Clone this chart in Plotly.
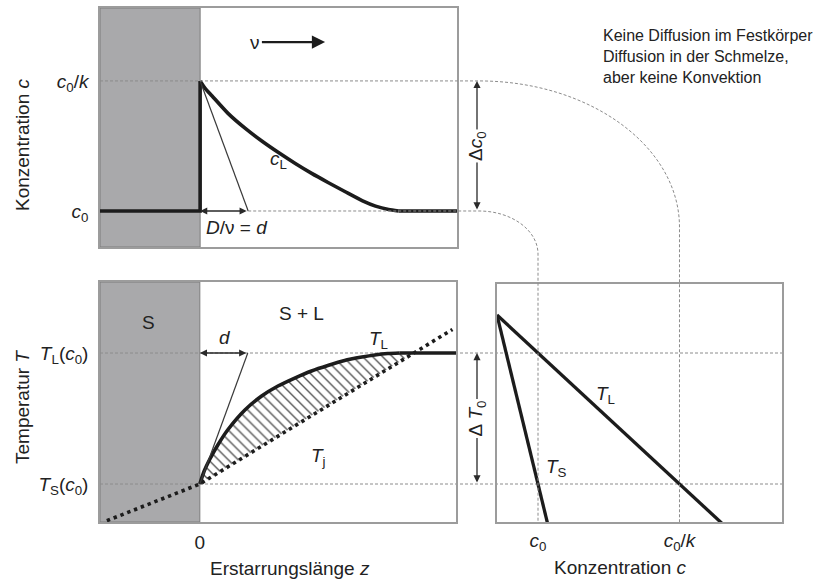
import plotly.graph_objects as go

W, H = 815, 579
FONT = "Liberation Sans, Arial, Helvetica, sans-serif"

# ---- dimensionless model quantities ----
# c in units of c0, T scaled so that T_S(c0) = 0 and T_L(c0) = 1, z in units of d = D/nu
C0 = 1.0
K = 0.2247                      # partition coefficient (c0/k = 4.45)
T_MELT = 1.0 / (1.0 - K)        # liquidus temperature of the pure solvent
M_LIQ = (T_MELT - 1.0) / C0     # liquidus slope
D_V = 1.0                       # diffusion length d = D/nu

# solute profile in the melt ahead of the front
z_prof = [0.0, 0.10, 0.25, 0.58, 0.94, 1.29, 1.63, 1.98, 2.33, 2.67, 3.02, 3.38, 3.65, 3.92, 4.13]
c_prof = [4.45, 4.26, 4.05, 3.59, 3.19, 2.85, 2.55, 2.26, 1.99, 1.75, 1.51, 1.27, 1.13, 1.04, 1.00]

# local liquidus temperature ahead of the front
z_temp = [0.0, 0.083, 0.21, 0.375, 0.58, 0.94, 1.29, 1.63, 1.98, 2.33, 2.67, 3.02, 3.38, 3.65, 3.92, 4.17]
t_liq = [0.0, 0.092, 0.191, 0.298, 0.412, 0.565, 0.672, 0.748, 0.809, 0.863, 0.905, 0.943, 0.969, 0.985, 0.996, 1.0]

# imposed temperature profile T_j (solid | melt)
z_tj = [-1.94, 0.0, 5.27]
t_tj = [-0.28, 0.0, 1.18]

# ---- panel placement (pixels: left, right, top, bottom) ----
BOX_TOP = (100, 457, 8, 247)
BOX_BL = (100, 456, 282, 522)
BOX_BR = (497, 782, 284, 522)

Z_RANGE = [-2.083, 5.344]
C_RANGE = [0.045, 6.385]
TL_RANGE = [-0.29, 1.542]
CR_RANGE = [0.0, 6.95]
TR_RANGE = [-0.29, 1.527]


def xdom(b):
    return [b[0] / W, b[1] / W]


def ydom(b):
    return [1 - b[3] / H, 1 - b[2] / H]


def to_px_x(box, rng, v):
    return box[0] + (v - rng[0]) / (rng[1] - rng[0]) * (box[1] - box[0])


def to_px_y(box, rng, v):
    return box[3] - (v - rng[0]) / (rng[1] - rng[0]) * (box[3] - box[2])


INK = "#1c1c1c"
THIN = "#3a3a3a"
GUIDE = "#8c8c8c"
BOXLINE = "#9c9c9c"
SOLID_FILL = "#a9a9ab"
TXT = 19

fig = go.Figure()

# ---- top: concentration ----
fig.add_trace(go.Scatter(x=[Z_RANGE[0], 0.0, 0.0], y=[C0, C0, c_prof[0]], mode="lines",
                         line=dict(color=INK, width=3.6), xaxis="x", yaxis="y", hoverinfo="skip"))
fig.add_trace(go.Scatter(x=z_prof, y=c_prof, mode="lines", line=dict(color=INK, width=3.6, shape="spline", smoothing=0.6),
                         xaxis="x", yaxis="y", hoverinfo="skip"))
fig.add_trace(go.Scatter(x=[z_prof[-1], Z_RANGE[1]], y=[C0, C0], mode="lines", line=dict(color=INK, width=3.6),
                         xaxis="x", yaxis="y", hoverinfo="skip"))
fig.add_trace(go.Scatter(x=[0.0, D_V], y=[C0 / K, C0], mode="lines", line=dict(color=THIN, width=1.2),
                         xaxis="x", yaxis="y", hoverinfo="skip"))

# ---- bottom left: temperature along z ----
z_cross = z_tj[2] * 1.0 / t_tj[2]
fig.add_trace(go.Scatter(x=[0.0, z_cross], y=[0.0, 1.0], mode="lines", line=dict(width=0, color="rgba(0,0,0,0)"),
                         xaxis="x2", yaxis="y2", hoverinfo="skip"))
fig.add_trace(go.Scatter(x=z_temp + [z_cross], y=t_liq + [1.0], mode="lines",
                         line=dict(width=0, color="rgba(0,0,0,0)", shape="spline", smoothing=0.6),
                         fill="tonexty", fillcolor="rgba(0,0,0,0)",
                         fillpattern=dict(shape="\\", size=7, solidity=0.2, fgcolor="#444444", fgopacity=0.9),
                         xaxis="x2", yaxis="y2", hoverinfo="skip"))
fig.add_trace(go.Scatter(x=z_tj, y=t_tj, mode="lines", line=dict(color=INK, width=3.6, dash="3.4px,3.9px"),
                         xaxis="x2", yaxis="y2", hoverinfo="skip"))
fig.add_trace(go.Scatter(x=z_temp, y=t_liq, mode="lines", line=dict(color=INK, width=3.6, shape="spline", smoothing=0.6),
                         xaxis="x2", yaxis="y2", hoverinfo="skip"))
fig.add_trace(go.Scatter(x=[z_temp[-1], Z_RANGE[1]], y=[1.0, 1.0], mode="lines", line=dict(color=INK, width=3.6),
                         xaxis="x2", yaxis="y2", hoverinfo="skip"))
fig.add_trace(go.Scatter(x=[0.0, D_V], y=[0.0, 1.0], mode="lines", line=dict(color=THIN, width=1.2),
                         xaxis="x2", yaxis="y2", hoverinfo="skip"))

# ---- bottom right: phase diagram ----
c_liq = [0.0, CR_RANGE[1]]
fig.add_trace(go.Scatter(x=c_liq, y=[T_MELT - M_LIQ * c for c in c_liq], mode="lines",
                         line=dict(color=INK, width=3.3), xaxis="x3", yaxis="y3", hoverinfo="skip"))
c_sol = [0.0, 2.0]
fig.add_trace(go.Scatter(x=c_sol, y=[T_MELT - M_LIQ * c / K for c in c_sol], mode="lines",
                         line=dict(color=INK, width=3.3), xaxis="x3", yaxis="y3", hoverinfo="skip"))

# ---- shapes ----
shapes = []
for xr, yr in (("x", "y"), ("x2", "y2")):
    shapes.append(dict(type="rect", xref=xr, yref=yr + " domain", x0=Z_RANGE[0], x1=0.0, y0=0, y1=1,
                       fillcolor=SOLID_FILL, line=dict(color="#7d7d7d", width=1), layer="below"))

dash = dict(color=GUIDE, width=1, dash="3px,2px")
ARROW_X = 477          # pixel column of the Delta arrows
ARC_X0 = 479           # where the connectors start to bend
ARC_ASPECT = 1.37
KAPPA = 0.5523


def pp(x, y):
    return f"{x / W:.5f},{1 - y / H:.5f}"


def connector(x_start, y_level, x_target, y_end):
    rx = x_target - ARC_X0
    ry = rx / ARC_ASPECT
    return ("M " + pp(x_start, y_level) + " L " + pp(ARC_X0, y_level)
            + " C " + pp(ARC_X0 + KAPPA * rx, y_level) + " " + pp(x_target, y_level + ry - KAPPA * ry)
            + " " + pp(x_target, y_level + ry) + " L " + pp(x_target, y_end))


# c0/k and c0 levels carried over to the phase diagram
y_ck = to_px_y(BOX_TOP, C_RANGE, C0 / K)
y_c0 = to_px_y(BOX_TOP, C_RANGE, C0)
x_ck = to_px_x(BOX_BR, CR_RANGE, C0 / K)
x_c0 = to_px_x(BOX_BR, CR_RANGE, C0)
shapes.append(dict(type="path", xref="paper", yref="paper", line=dash,
                   path=connector(BOX_TOP[0], y_ck, x_ck, BOX_BR[3])))
shapes.append(dict(type="path", xref="paper", yref="paper", line=dash,
                   path=connector(to_px_x(BOX_TOP, Z_RANGE, D_V), y_c0, x_c0, BOX_BR[3])))
# liquidus / solidus temperature levels
for tv in (0.0, 1.0):
    shapes.append(dict(type="line", xref="paper", yref="y2", x0=BOX_BL[0] / W, x1=BOX_BR[1] / W, y0=tv, y1=tv,
                       line=dash, layer="below"))

# ---- annotations ----
ann = []


def label(text, x, y, xref, yref, size=TXT, **kw):
    kw.setdefault("xanchor", "center")
    kw.setdefault("yanchor", "middle")
    ann.append(dict(text=text, x=x, y=y, xref=xref, yref=yref, showarrow=False,
                    font=dict(family=FONT, size=size, color="#222"), **kw))


arrow_style = dict(arrowhead=2, arrowsize=1.1, arrowwidth=1.3, arrowcolor="#2a2a2a", standoff=0, startstandoff=0,
                   arrowside="end+start", text="", showarrow=True)

# drift velocity
ann.append(dict(text="ν", x=2.60, y=5.48, xref="x", yref="y", ax=1.15, ay=5.48, axref="x", ayref="y",
                showarrow=True, arrowhead=2, arrowsize=1.1, arrowwidth=2.4, arrowcolor=INK, standoff=0,
                font=dict(family=FONT, size=TXT, color="#222")))
# d arrows
ann.append(dict(x=0.0, y=C0, xref="x", yref="y", ax=D_V, ay=C0, axref="x", ayref="y", **arrow_style))
ann.append(dict(x=0.0, y=1.0, xref="x2", yref="y2", ax=D_V, ay=1.0, axref="x2", ayref="y2", **arrow_style))
# Delta c0 and Delta T0
ann.append(dict(x=ARROW_X / W, y=C0 / K, xref="paper", yref="y", ax=0, ay=C0, axref="pixel", ayref="y",
                **arrow_style))
ann.append(dict(x=ARROW_X / W, y=1.0, xref="paper", yref="y2", ax=0, ay=0.0, axref="pixel", ayref="y2",
                **arrow_style))
label("Δ<i>c</i><sub>0</sub>", ARROW_X / W, (C0 + C0 / K) / 2, "paper", "y", textangle=-90, bgcolor="white")
label("Δ <i>T</i><sub>0</sub>", ARROW_X / W, 0.5, "paper", "y2", textangle=-90, bgcolor="white")

# curve and region labels
label("<i>c</i><sub>L</sub>", 1.64, 2.36, "x", "y")
label("<i>D</i>/ν = <i>d</i>", 0.77, 0.56, "x", "y")
label("S", -1.08, 1.23, "x2", "y2")
label("S + L", 2.13, 1.305, "x2", "y2")
label("<i>d</i>", 0.52, 1.115, "x2", "y2")
label("<i>T</i><sub>L</sub>", 3.72, 1.10, "x2", "y2")
label("<i>T</i><sub>j</sub>", 2.47, 0.21, "x2", "y2")
label("<i>T</i><sub>L</sub>", 2.65, 0.68, "x3", "y3")
label("<i>T</i><sub>S</sub>", 1.45, 0.12, "x3", "y3")

# axis titles
label("Konzentration <i>c</i>", 22 / W, 1 - 145 / H, "paper", "paper", textangle=-90)
label("Temperatur <i>T</i>", 22 / W, 1 - 407 / H, "paper", "paper", textangle=-90)
label("Erstarrungslänge <i>z</i>", 290 / W, 1 - 568 / H, "paper", "paper")
label("Konzentration <i>c</i>", 620 / W, 1 - 567 / H, "paper", "paper")

# note
label("Keine Diffusion im Festkörper<br>Diffusion in der Schmelze,<br>aber keine Konvektion",
      601 / W, 1 - 25 / H, "paper", "paper", size=16, xanchor="left", yanchor="top", align="left")

box_axis = dict(showline=True, mirror=True, linecolor=BOXLINE, linewidth=1.5, showgrid=False, zeroline=False,
                ticks="", fixedrange=True, tickfont=dict(family=FONT, size=TXT, color="#222"))

fig.update_layout(
    width=W, height=H, margin=dict(l=0, r=0, t=0, b=0),
    paper_bgcolor="white", plot_bgcolor="rgba(0,0,0,0)", showlegend=False,
    font=dict(family=FONT, size=TXT, color="#222"),
    xaxis=dict(domain=xdom(BOX_TOP), range=Z_RANGE, anchor="y", showticklabels=False, **box_axis),
    yaxis=dict(domain=ydom(BOX_TOP), range=C_RANGE, anchor="x", tickvals=[C0, C0 / K],
               ticktext=["<i>c</i><sub>0</sub>", "<i>c</i><sub>0</sub>/<i>k</i>"], ticklabelstandoff=6, **box_axis),
    xaxis2=dict(domain=xdom(BOX_BL), range=Z_RANGE, anchor="y2", tickvals=[0.0], ticktext=["0"],
                ticklabelstandoff=2, **box_axis),
    yaxis2=dict(domain=ydom(BOX_BL), range=TL_RANGE, anchor="x2", tickvals=[0.0, 1.0],
                ticktext=["<i>T</i><sub>S</sub>(<i>c</i><sub>0</sub>)", "<i>T</i><sub>L</sub>(<i>c</i><sub>0</sub>)"],
                ticklabelstandoff=6, **box_axis),
    xaxis3=dict(domain=xdom(BOX_BR), range=CR_RANGE, anchor="y3", tickvals=[C0, C0 / K],
                ticktext=["<i>c</i><sub>0</sub>", "<i>c</i><sub>0</sub>/<i>k</i>"], ticklabelstandoff=0, **box_axis),
    yaxis3=dict(domain=ydom(BOX_BR), range=TR_RANGE, anchor="x3", showticklabels=False, **box_axis),
    shapes=shapes,
    annotations=ann,
)

fig.write_html("out.html")
